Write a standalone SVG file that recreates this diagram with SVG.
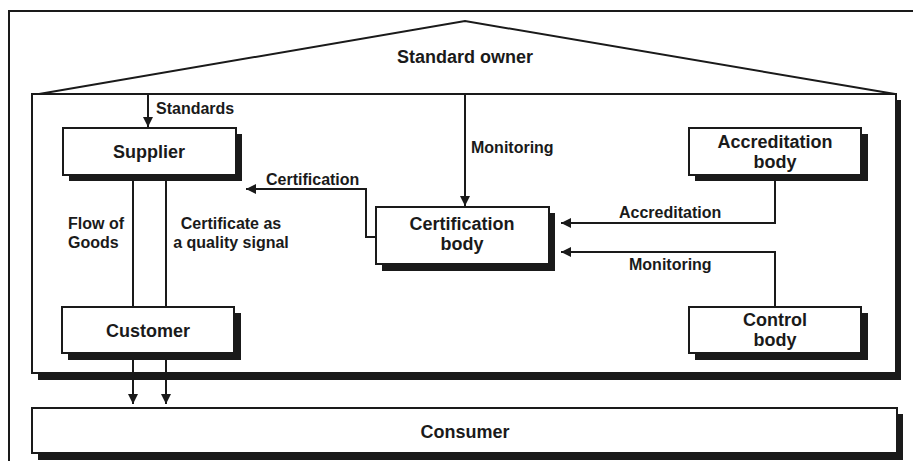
<svg xmlns="http://www.w3.org/2000/svg" width="913" height="461" viewBox="0 0 913 461">
<defs>
<style>
text{font-family:"Liberation Sans",Arial,sans-serif;font-weight:bold;fill:#1a1a1a}
.n{font-size:18px;text-anchor:middle}
.l{font-size:16px}
.box{fill:#fff;stroke:#1a1a1a;stroke-width:2}
.sh{fill:#1a1a1a}
.ln{fill:none;stroke:#1a1a1a;stroke-width:2}
</style>
<marker id="ah" viewBox="0 0 10 10" refX="10" refY="5" markerWidth="10" markerHeight="10" markerUnits="userSpaceOnUse" orient="auto">
<path d="M0,0 L10,5 L0,10 z" fill="#1a1a1a"/>
</marker>
</defs>
<rect width="913" height="461" fill="#fff"/>
<g id="frame">
<path class="ln" d="M913,11 H9 V461"/>
</g>
<g id="house">
<rect class="sh" x="38" y="100" width="863" height="280"/>
<rect class="box" x="32" y="94" width="864" height="279"/>
<path class="ln" d="M39,94 L465,21 L895,94"/>
<text x="465" y="63" class="n">Standard owner</text>
</g>
<g id="consumer">
<rect class="sh" x="38" y="414" width="865" height="46"/>
<rect class="box" x="32" y="408" width="865" height="45"/>
<text x="465" y="438" class="n">Consumer</text>
</g>
<g id="supplier">
<rect class="sh" x="69" y="134" width="173" height="47"/>
<rect class="box" x="63" y="128" width="173" height="47"/>
<text x="149" y="158" class="n">Supplier</text>
</g>
<g id="customer">
<rect class="sh" x="68" y="313" width="173" height="47"/>
<rect class="box" x="62" y="307" width="172" height="46"/>
<text x="148" y="337" class="n">Customer</text>
</g>
<g id="certification-body">
<rect class="sh" x="382" y="213" width="173" height="58"/>
<rect class="box" x="376" y="207" width="173" height="57"/>
<text x="462" y="230" class="n">Certification</text>
<text x="462" y="250" class="n">body</text>
</g>
<g id="accreditation-body">
<rect class="sh" x="695" y="134" width="173" height="47"/>
<rect class="box" x="689" y="128" width="172" height="47"/>
<text x="775" y="148" class="n">Accreditation</text>
<text x="775" y="168" class="n">body</text>
</g>
<g id="control-body">
<rect class="sh" x="695" y="313" width="173" height="47"/>
<rect class="box" x="689" y="307" width="172" height="46"/>
<text x="775" y="326" class="n">Control</text>
<text x="775" y="346" class="n">body</text>
</g>
<g id="connectors">
<path class="ln" d="M148,95 V127" marker-end="url(#ah)"/>
<path class="ln" d="M465,95 V206" marker-end="url(#ah)"/>
<path class="ln" d="M376,237 H366 V189 H246" marker-end="url(#ah)"/>
<path class="ln" d="M775,176 V223 H561" marker-end="url(#ah)"/>
<path class="ln" d="M775,306 V252 H561" marker-end="url(#ah)"/>
<path class="ln" d="M133,176 V306"/>
<path class="ln" d="M166,176 V306"/>
<path class="ln" d="M133,354 V404" marker-end="url(#ah)"/>
<path class="ln" d="M166,354 V404" marker-end="url(#ah)"/>
</g>
<g id="labels">
<text x="156" y="114" class="l">Standards</text>
<text x="471" y="153" class="l">Monitoring</text>
<text x="266" y="185" class="l">Certification</text>
<text x="619" y="218" class="l">Accreditation</text>
<text x="629" y="270" class="l">Monitoring</text>
<text x="68" y="229" class="l">Flow of</text>
<text x="68" y="248" class="l">Goods</text>
<text x="231" y="229" class="l" text-anchor="middle">Certificate as</text>
<text x="231" y="248" class="l" text-anchor="middle">a quality signal</text>
</g>
</svg>
